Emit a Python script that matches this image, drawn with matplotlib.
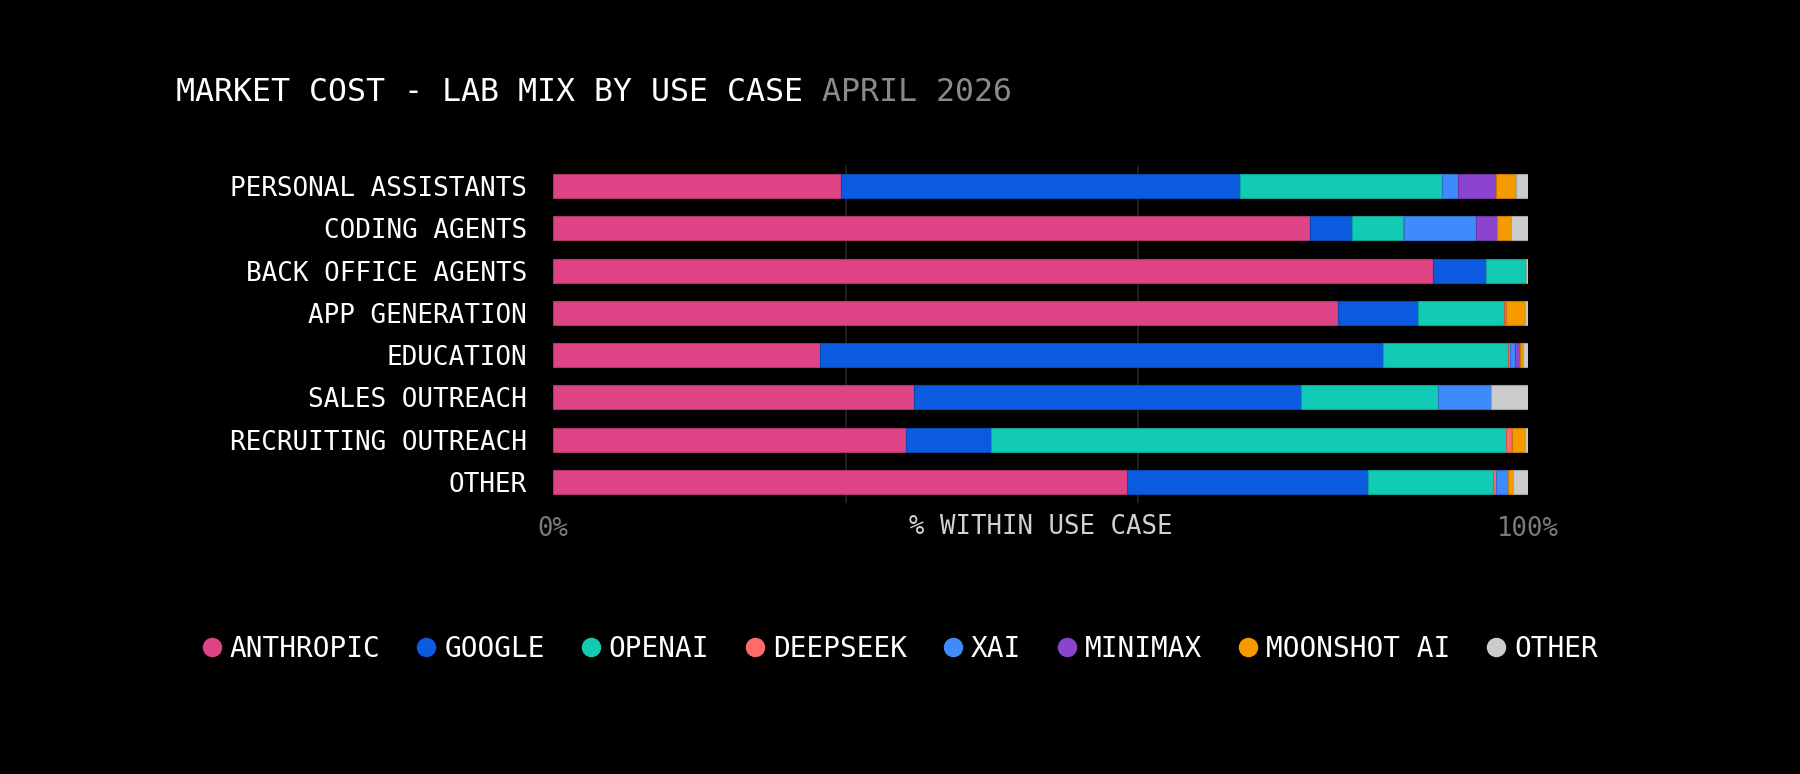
import matplotlib
matplotlib.use("Agg")
import matplotlib.pyplot as plt
from matplotlib.lines import Line2D
from matplotlib import colors as mcolors
import numpy as np

categories = ["PERSONAL ASSISTANTS", "CODING AGENTS", "BACK OFFICE AGENTS", "APP GENERATION",
              "EDUCATION", "SALES OUTREACH", "RECRUITING OUTREACH", "OTHER"]
labs = ["ANTHROPIC", "GOOGLE", "OPENAI", "DEEPSEEK", "XAI", "MINIMAX", "MOONSHOT AI", "OTHER"]
lab_colors = ["#DE4385", "#0A5BE0", "#12CBB5", "#FF6B6B", "#3D8BFD", "#8A44CF", "#F59B00", "#CCCCCC"]

anthropic = [29.5, 77.7, 90.3, 80.5, 27.4, 37.0, 36.2, 58.9]
google    = [41.0,  4.3,  5.45, 8.25, 57.8, 39.7, 8.65, 24.75]
openai    = [20.7,  5.2,  4.05, 8.8, 12.8, 14.05, 52.85, 12.75]
deepseek  = [0.0,   0.15, 0.0,  0.2,  0.25, 0.0,  0.6,  0.4]
xai       = [1.7,   7.35, 0.0,  0.0,  0.5,  5.45, 0.0,  1.2]
minimax   = [3.8,   2.15, 0.0,  0.0,  0.55, 0.0,  0.0,  0.0]
moonshot  = [2.1,   1.4,  0.0,  1.95, 0.25, 0.0,  1.35, 0.45]
other     = [1.2,   1.75, 0.2,  0.3,  0.5,  3.8,  0.3,  1.55]

series = [anthropic, google, openai, deepseek, xai, minimax, moonshot, other]

title_main = "MARKET COST - LAB MIX BY USE CASE"
title_date = "APRIL 2026"
xlabel = "% WITHIN USE CASE"
tick_vals = [0, 1.0]
tick_labels = ["0%", "100%"]
grid_vals = [0, 0.3, 0.6, 1.0]

FONT = "DejaVu Sans Mono"
plt.rcParams["font.family"] = [FONT]

fig = plt.figure(figsize=(18, 7.74), dpi=100, facecolor="black")
ax = fig.add_axes([0.3074, 0.350, 0.5413, 0.4355])
ax.set_facecolor("black")

data = np.array(series, dtype=float)
data = data / data.sum(axis=0)
y = np.arange(len(categories))
left = np.zeros(len(categories))
for vals, col in zip(data, lab_colors):
    edge = tuple(c * 0.8 for c in mcolors.to_rgb(col))
    ax.barh(y, vals, left=left, height=0.568, color=col, edgecolor=edge, linewidth=0.8, zorder=3)
    left += vals

ax.set_xlim(0, 1.0)
ax.set_ylim(7.505, -0.473)
ax.set_yticks(y)
ax.set_yticklabels(categories, color="white", fontsize=18.7)
ax.set_xticks(tick_vals)
ax.set_xticklabels(tick_labels, color="#7a7a7a", fontsize=18.5)
ax.set_xticks(grid_vals, minor=True)
ax.tick_params(axis="both", which="both", length=0)
ax.tick_params(axis="y", pad=19)
ax.tick_params(axis="x", pad=9)
ax.grid(True, axis="x", which="minor", color="#1e1e1e", linewidth=1.5, zorder=0)
ax.grid(False, axis="x", which="major")
ax.grid(False, axis="y")
for s in ax.spines.values():
    s.set_visible(False)

ax.text(0.5, -0.072, xlabel, transform=ax.transAxes, ha="center", va="center",
        color="#d0d0d0", fontsize=18.5)

t1 = fig.text(0.0978, 0.881, title_main + " ", color="white", fontsize=22.8, va="center", ha="left")
fig.canvas.draw()
bb = t1.get_window_extent()
x2 = bb.x1 / fig.bbox.width
fig.text(x2, 0.881, title_date, color="#8a8a8a", fontsize=22.8, va="center", ha="left")

handles = [Line2D([0], [0], marker="o", linestyle="none", markersize=13,
                  markerfacecolor=c, markeredgecolor=c) for c in lab_colors]
leg = fig.legend(handles, labs, loc="center", bbox_to_anchor=(0.5, 0.1615), ncol=len(labs),
                 frameon=False, fontsize=20, handlelength=0.7, handletextpad=0.3,
                 columnspacing=1.3)
for t in leg.get_texts():
    t.set_color("white")

fig.savefig("out.png", dpi=100, facecolor="black")
